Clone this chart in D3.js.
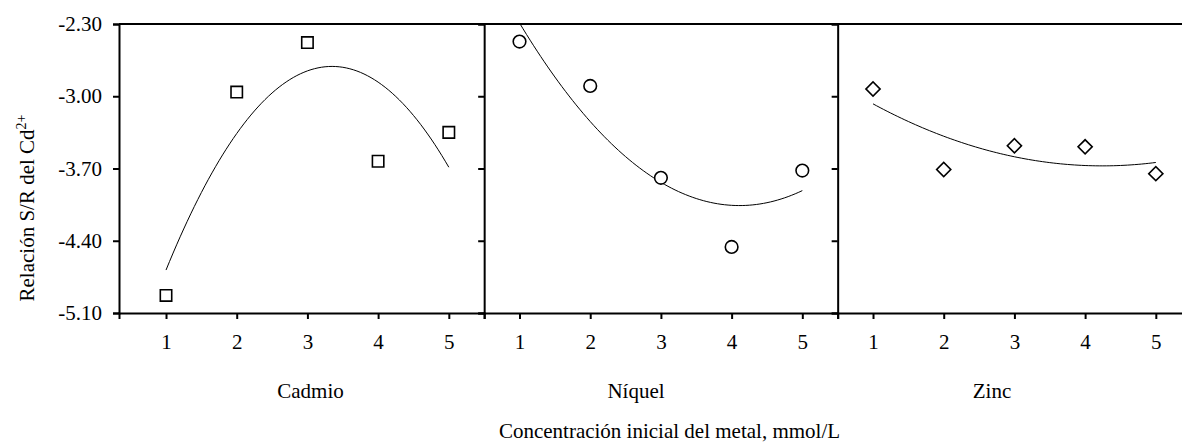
<!DOCTYPE html>
<html>
<head>
<meta charset="utf-8">
<script src="https://cdn.jsdelivr.net/npm/d3@7"></script>
<style>
  html, body { margin: 0; padding: 0; background: #fff; }
  svg { display: block; }
  text { font-family: "Times New Roman", "Liberation Serif", serif; fill: #000; }
</style>
</head>
<body>
<div id="chart"></div>
<script>
  // ── Datos ──
  const metales = ['Cadmio', 'Níquel', 'Zinc'];
  const concentraciones = [1, 2, 3, 4, 5];
  const srCadmio = [-4.93, -2.96, -2.48, -3.63, -3.35];
  const srNiquel = [-2.47, -2.90, -3.79, -4.46, -3.72];
  const srZinc   = [-2.93, -3.71, -3.48, -3.49, -3.75];
  const yTicks = [-5.10, -4.40, -3.70, -3.00, -2.30];
  const yTitulo = 'Relación S/R del Cd';
  const yTituloSup = '2+';
  const xTitulo = 'Concentración inicial del metal, mmol/L';

  const series = [srCadmio, srNiquel, srZinc];
  const marcadores = ['square', 'circle', 'diamond'];

  // ── Layout ──
  const W = 1182, H = 444;
  const yTop = 24, yBottom = 313;
  const unidad = 70.7;                 // px por unidad de concentración
  const paneles = [
    { lo: 0.335, hi: 5.5, x0: 119, etiquetaX: 310.5 },
    { lo: 0.5,   hi: 5.5, etiquetaX: 636 },
    { lo: 0.5,   hi: 5.5, etiquetaX: 992 },
  ];
  paneles.forEach((p, i) => {
    if (i > 0) p.x0 = paneles[i - 1].x1;
    p.x1 = p.x0 + (p.hi - p.lo) * unidad;
  });

  const FONT = 21;

  const svg = d3.select('#chart').append('svg')
    .attr('width', W).attr('height', H);

  const y = d3.scaleLinear().domain([-5.10, -2.30]).range([yBottom, yTop]);

  // Ajuste polinomial de 2º grado por mínimos cuadrados
  function ajusteCuadratico(xs, ys) {
    let s = [0, 0, 0, 0, 0], t = [0, 0, 0];
    xs.forEach((x, i) => {
      for (let k = 0; k < 5; k++) s[k] += Math.pow(x, k);
      for (let k = 0; k < 3; k++) t[k] += Math.pow(x, k) * ys[i];
    });
    const M = [[s[0], s[1], s[2], t[0]], [s[1], s[2], s[3], t[1]], [s[2], s[3], s[4], t[2]]];
    for (let c = 0; c < 3; c++) {
      for (let r = c + 1; r < 3; r++) {
        const f = M[r][c] / M[c][c];
        for (let k = c; k < 4; k++) M[r][k] -= f * M[c][k];
      }
    }
    const b = [0, 0, 0];
    for (let r = 2; r >= 0; r--) {
      let v = M[r][3];
      for (let k = r + 1; k < 3; k++) v -= M[r][k] * b[k];
      b[r] = v / M[r][r];
    }
    return x => b[0] + b[1] * x + b[2] * x * x;
  }

  paneles.forEach((p, i) => {
    const x = d3.scaleLinear().domain([p.lo, p.hi]).range([p.x0, p.x1]);
    const g = svg.append('g');
    const datos = concentraciones.map((c, j) => ({ c, v: series[i][j] }));

    // eje X
    const ejeX = g.append('g')
      .attr('transform', `translate(0,${yBottom})`)
      .call(d3.axisBottom(x).tickValues(concentraciones).tickSize(6).tickSizeOuter(6).tickPadding(15).tickFormat(d3.format('d')));

    // eje Y
    const ejeY = g.append('g')
      .attr('transform', `translate(${p.x0},0)`)
      .call(d3.axisLeft(y).tickValues(yTicks).tickSize(6).tickSizeOuter(6).tickPadding(11)
        .tickFormat(i === 0 ? (d => d.toFixed(2)) : ''));

    [ejeX, ejeY].forEach(e => {
      e.selectAll('path, line').attr('stroke', '#000').attr('stroke-width', 2);
      e.selectAll('text').style('font-size', FONT + 'px').attr('fill', '#000')
        .style('font-family', '"Times New Roman", "Liberation Serif", serif');
    });

    // curva de tendencia
    const f = ajusteCuadratico(concentraciones, series[i]);
    const pts = d3.range(1, 5.0001, 0.05).map(c => [c, f(c)]);
    g.append('path')
      .attr('d', d3.line().x(d => x(d[0])).y(d => y(d[1]))(pts))
      .attr('fill', 'none').attr('stroke', '#000').attr('stroke-width', 1);

    // marcadores
    const sym = {
      square: d3.symbol().type(d3.symbolSquare).size(130),
      circle: d3.symbol().type(d3.symbolCircle).size(125),
      diamond: d3.symbol().type(d3.symbolSquare).size(100),
    }[marcadores[i]];
    g.selectAll('.punto').data(datos).enter().append('path')
      .attr('class', 'punto')
      .attr('d', sym)
      .attr('transform', d => `translate(${x(d.c)},${y(d.v)})` + (marcadores[i] === 'diamond' ? ' rotate(45)' : ''))
      .attr('fill', '#fff').attr('stroke', '#000').attr('stroke-width', 1.6);

    // etiqueta del metal
    svg.append('text')
      .attr('x', p.etiquetaX).attr('y', 398)
      .attr('text-anchor', 'middle')
      .style('font-size', FONT + 'px')
      .text(metales[i]);
  });

  // borde superior
  svg.append('line')
    .attr('x1', paneles[0].x0).attr('x2', paneles[2].x1)
    .attr('y1', yTop).attr('y2', yTop)
    .attr('stroke', '#000').attr('stroke-width', 2);

  // título eje Y
  const ty = svg.append('text')
    .attr('transform', 'translate(34,208) rotate(-90)')
    .attr('text-anchor', 'middle')
    .style('font-size', FONT + 'px');
  ty.append('tspan').text(yTitulo);
  ty.append('tspan').attr('dy', -8).style('font-size', '14px').text(yTituloSup);

  // título eje X
  svg.append('text')
    .attr('x', 669.5).attr('y', 438)
    .attr('text-anchor', 'middle')
    .style('font-size', FONT + 'px')
    .text(xTitulo);
</script>
</body>
</html>
